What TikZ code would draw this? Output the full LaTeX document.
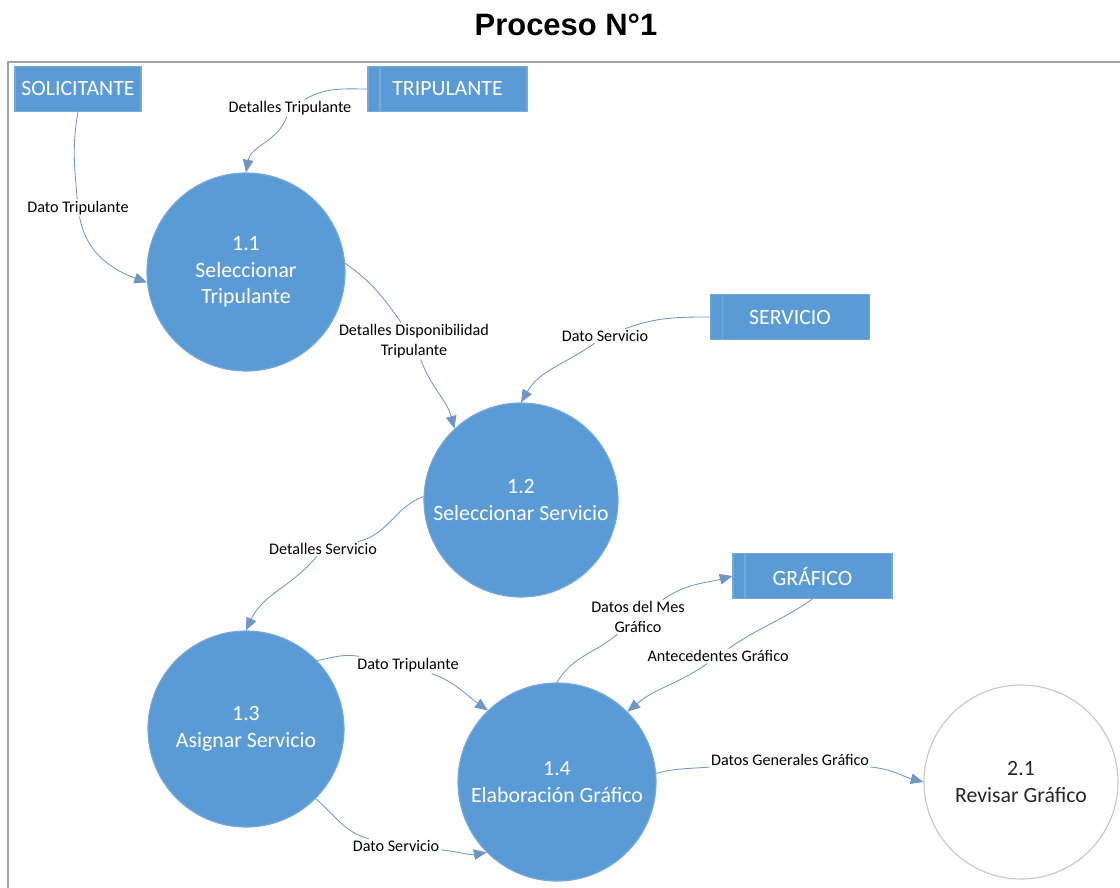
\documentclass[tikz,border=0pt]{standalone}
\usepackage{fontspec}
\setmainfont{Carlito}
\newfontfamily\titlefont{Liberation Sans}
\usepackage{tikz}
\usetikzlibrary{arrows.meta}
\definecolor{dfdblue}{HTML}{5B9BD5}
\definecolor{dfdedge}{HTML}{74A9DC}
\definecolor{flowblue}{HTML}{6E97C8}
\definecolor{framegray}{HTML}{A3A3A3}

\begin{document}
\begin{tikzpicture}[x=0.025cm,y=-0.025cm,>={Triangle[length=9pt,width=7.5pt]},
  proc/.style={circle,fill=dfdblue,draw=dfdedge,line width=0.8pt,text=white,minimum size=4.9cm,inner sep=0pt,align=center,font=\fontsize{15.5}{19}\selectfont},
  store/.style={rectangle,fill=dfdblue,draw=dfdedge,line width=0.8pt,text=white,minimum height=1.12cm,inner sep=0pt,font=\fontsize{15.5}{19}\selectfont},
  storebar/.style={store,path picture={\draw[dfdedge,line width=0.8pt] ([xshift=0.3cm]path picture bounding box.north west) -- ([xshift=0.3cm]path picture bounding box.south west);}},
  lbl/.style={fill=white,inner sep=1pt,align=center,font=\fontsize{11.5}{14}\selectfont},
  flow/.style={->,draw=flowblue,line width=0.6pt}]
\useasboundingbox (0,0) rectangle (1120,888);
% Frame and title
\draw[framegray,line width=1.2pt] (8,900) -- (8,62) -- (1130,62);
\node (title) at (566,25) {\titlefont\bfseries\fontsize{22}{26}\selectfont Proceso N°1};
% External entities and data stores
\node[store,minimum width=3.15cm] (sol) at (78,89) {SOLICITANTE};
\node[storebar,minimum width=3.975cm] (trip) at (447.5,89) {TRIPULANTE};
\node[storebar,minimum width=3.975cm] (serv) at (790,317) {SERVICIO};
\node[storebar,minimum width=3.975cm] (graf) at (812.5,576) {GRÁFICO};
% Processes
\node[proc,minimum size=4.95cm] (p11) at (246,272) {1.1\\Seleccionar\\Tripulante};
\node[proc,minimum size=4.85cm] (p12) at (521,500) {1.2\\Seleccionar Servicio};
\node[proc] (p13) at (246,729) {1.3\\Asignar Servicio};
\node[proc,minimum size=4.95cm] (p14) at (557,782) {1.4\\Elaboración Gráfico};
\node[proc,fill=white,draw=black!22,text=black!85,minimum size=4.85cm] (p21) at (1021,782) {2.1\\Revisar Gráfico};
% Flow labels
\node[lbl] (lDT1) at (78,208) {Dato Tripulante};
\node[lbl] (lDTr) at (290,108) {Detalles Tripulante};
\node[lbl] (lDDT) at (414,341) {Detalles Disponibilidad\\Tripulante};
\node[lbl] (lDS1) at (605,336) {Dato Servicio};
\node[lbl] (lDSv) at (323,549) {Detalles Servicio};
\node[lbl] (lDT2) at (408,665) {Dato Tripulante};
\node[lbl] (lDS2) at (396,846) {Dato Servicio};
\node[lbl] (lDMG) at (638,617) {Datos del Mes\\Gráfico};
\node[lbl] (lAG) at (718,656) {Antecedentes Gráfico};
\node[lbl] (lDGG) at (790,760) {Datos Generales Gráfico};
% Data flows
\draw[flow] (sol.south) to[out=-100,in=95] (lDT1) to[out=-80,in=160] (p11.186);
\draw[flow] (trip.west) to[out=180,in=30] (lDTr) to[out=-110,in=80] (p11.north);
\draw[flow] (p11.5) to[out=-35,in=125] (lDDT) to[out=-70,in=105] (p12.133);
\draw[flow] (serv.west) to[out=180,in=20] (lDS1) to[out=-145,in=60] (p12.north);
\draw[flow] (p12.178) to[out=200,in=12] (lDSv) to[out=-130,in=65] (p13.north);
\draw[flow] (p13.44) to[out=10,in=170] (lDT2) to[out=-20,in=145] (p14.134);
\draw[flow] (p13.-45) to[out=-40,in=165] (lDS2) to[out=-5,in=190] (p14.225);
\draw[flow] (p14.north) to[out=60,in=-140] (lDMG) to[out=35,in=195] (graf.west);
\draw[flow] (graf.south) to[out=-145,in=35] (lAG) to[out=-145,in=40] (p14.45);
\draw[flow] (p14.5) to[out=15,in=185] (lDGG) to[out=-5,in=165] (p21.west);
\end{tikzpicture}
\end{document}
